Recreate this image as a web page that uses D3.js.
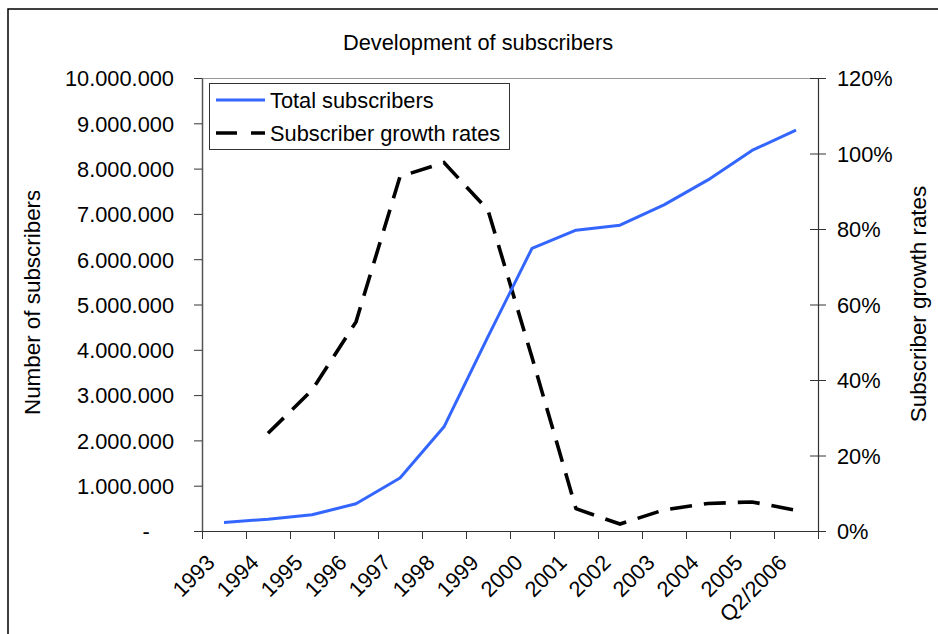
<!DOCTYPE html>
<html>
<head>
<meta charset="utf-8">
<script src="https://cdn.jsdelivr.net/npm/d3@7"></script>
<style>
  html, body { margin: 0; padding: 0; background: #fff; }
  svg { display: block; }
  text { font-family: "Liberation Sans", Arial, Helvetica, sans-serif; fill: #000; }
</style>
</head>
<body>
<svg id="chart" width="938" height="634"></svg>
<script>
// Categories along the x axis
const categories = ["1993", "1994", "1995", "1996", "1997", "1998", "1999",
  "2000", "2001", "2002", "2003", "2004", "2005", "Q2/2006"];

// Total subscribers (absolute numbers)
const totalSubscribers = [190000, 260000, 360000, 600000, 1170000, 2300000, 4290000,
  6240000, 6640000, 6750000, 7200000, 7750000, 8400000, 8850000];

// Year-on-year subscriber growth (percent); no value for the first year
const growthRates = [null, 25.9, 37.3, 55.4, 93.9, 97.6, 85.0,
  46.0, 5.9, 1.85, 5.6, 7.3, 7.7, 5.5];

// Axis ticks and their labels
const leftTickValues = [0, 1000000, 2000000, 3000000, 4000000, 5000000,
  6000000, 7000000, 8000000, 9000000, 10000000];
const leftTickLabels = ["-    ", "1.000.000", "2.000.000", "3.000.000", "4.000.000",
  "5.000.000", "6.000.000", "7.000.000", "8.000.000", "9.000.000", "10.000.000"];
const rightTickValues = [0, 20, 40, 60, 80, 100, 120];
const rightTickLabels = ["0%", "20%", "40%", "60%", "80%", "100%", "120%"];

const seriesNames = ["Total subscribers", "Subscriber growth rates"];
const titleText = "Development of subscribers";
const leftTitle = "Number of subscribers";
const rightTitle = "Subscriber growth rates";

const FONT = 21.8;
const TITLE_FONT = 22.4;
const svg = d3.select("#chart");

// outer frame
svg.append("rect")
  .attr("x", 8).attr("y", 9).attr("width", 1000).attr("height", 1000)
  .attr("fill", "none").attr("stroke", "#000").attr("stroke-width", 1.5);

const plot = { left: 202, right: 818, top: 78, bottom: 531 };

const x = d3.scaleBand().domain(categories).range([plot.left, plot.right]);
const xEdges = d3.scaleLinear().domain([0, categories.length]).range([plot.left, plot.right]);
const yL = d3.scaleLinear().domain([0, 10000000]).range([plot.bottom, plot.top]);
const yR = d3.scaleLinear().domain([0, 120]).range([plot.bottom, plot.top]);

// plot area top border
svg.append("line")
  .attr("x1", plot.left).attr("x2", plot.right)
  .attr("y1", plot.top + 0.5).attr("y2", plot.top + 0.5)
  .attr("stroke", "#999").attr("stroke-width", 1);

// left axis
const gL = svg.append("g").attr("transform", `translate(${plot.left},0)`)
  .call(d3.axisLeft(yL).tickValues(leftTickValues)
    .tickFormat((d, i) => leftTickLabels[i]).tickSize(8).tickSizeOuter(0).tickPadding(20));
gL.select(".domain").attr("stroke", "#555").attr("stroke-width", 1.5);
gL.selectAll(".tick line").attr("stroke", "#333");
gL.selectAll(".tick text").attr("font-size", FONT).style("white-space", "pre")
  .attr("font-family", null).attr("dy", "0.36em");

// right axis (ticks cross the axis line)
const gR = svg.append("g").attr("transform", `translate(${plot.right},0)`)
  .call(d3.axisRight(yR).tickValues(rightTickValues)
    .tickFormat((d, i) => rightTickLabels[i]).tickSize(8).tickSizeOuter(0).tickPadding(11));
gR.select(".domain").attr("stroke", "#333").attr("stroke-width", 1.2);
gR.selectAll(".tick line").attr("x1", -8).attr("stroke", "#333");
gR.selectAll(".tick text").attr("font-size", FONT).attr("font-family", null).attr("dy", "0.36em");

// bottom axis: ticks on category boundaries
const gB = svg.append("g").attr("transform", `translate(0,${plot.bottom})`)
  .call(d3.axisBottom(xEdges).ticks(categories.length).tickFormat("").tickSize(8).tickSizeOuter(0));
gB.select(".domain").attr("stroke", "#333").attr("stroke-width", 1.2);
gB.selectAll(".tick line").attr("stroke", "#333");

// rotated category labels
svg.append("g").selectAll("text")
  .data(categories).join("text")
  .attr("transform", d => `translate(${x(d) + x.bandwidth() / 2 - 8},${plot.bottom + 33}) rotate(-45)`)
  .attr("text-anchor", "end")
  .attr("font-size", FONT)
  .text(d => d);

// series lines
const cx = d => x(d) + x.bandwidth() / 2;
const lineTotal = d3.line().x((d, i) => cx(categories[i])).y(d => yL(d));
const lineGrowth = d3.line().defined(d => d != null).x((d, i) => cx(categories[i])).y(d => yR(d));

svg.append("path").datum(growthRates)
  .attr("d", lineGrowth).attr("fill", "none")
  .attr("stroke", "#000").attr("stroke-width", 3.6)
  .attr("stroke-dasharray", "22,12").attr("stroke-linejoin", "miter");

svg.append("path").datum(totalSubscribers)
  .attr("d", lineTotal).attr("fill", "none")
  .attr("stroke", "#3366ff").attr("stroke-width", 3)
  .attr("stroke-linejoin", "round");

// legend
const lg = svg.append("g");
lg.append("rect").attr("x", 209.5).attr("y", 83.5).attr("width", 300).attr("height", 66)
  .attr("fill", "#fff").attr("stroke", "#333").attr("stroke-width", 1);
const legendRows = [
  { name: seriesNames[0], color: "#3366ff", width: 3, dash: null },
  { name: seriesNames[1], color: "#000", width: 3.6, dash: "21,14" }
];
legendRows.forEach((r, i) => {
  const yy = 100 + i * 33;
  lg.append("line").attr("x1", 216).attr("x2", 265).attr("y1", yy).attr("y2", yy)
    .attr("stroke", r.color).attr("stroke-width", r.width)
    .attr("stroke-dasharray", r.dash);
  lg.append("text").attr("x", 270).attr("y", yy).attr("dy", "0.36em")
    .attr("font-size", FONT).text(r.name);
});

// title
svg.append("text").attr("x", 478).attr("y", 50).attr("text-anchor", "middle")
  .attr("font-size", FONT).text(titleText);

// axis titles (the left one is cut off at its top end)
svg.append("clipPath").attr("id", "leftTitleClip")
  .append("rect").attr("x", 0).attr("y", 191).attr("width", 80).attr("height", 300);
svg.append("g").attr("clip-path", "url(#leftTitleClip)")
  .append("text")
  .attr("transform", "translate(40,415) rotate(-90)")
  .attr("font-size", TITLE_FONT).text(leftTitle);

svg.append("text")
  .attr("transform", "translate(926,304) rotate(-90)")
  .attr("text-anchor", "middle")
  .attr("font-size", TITLE_FONT).text(rightTitle);
</script>
</body>
</html>
